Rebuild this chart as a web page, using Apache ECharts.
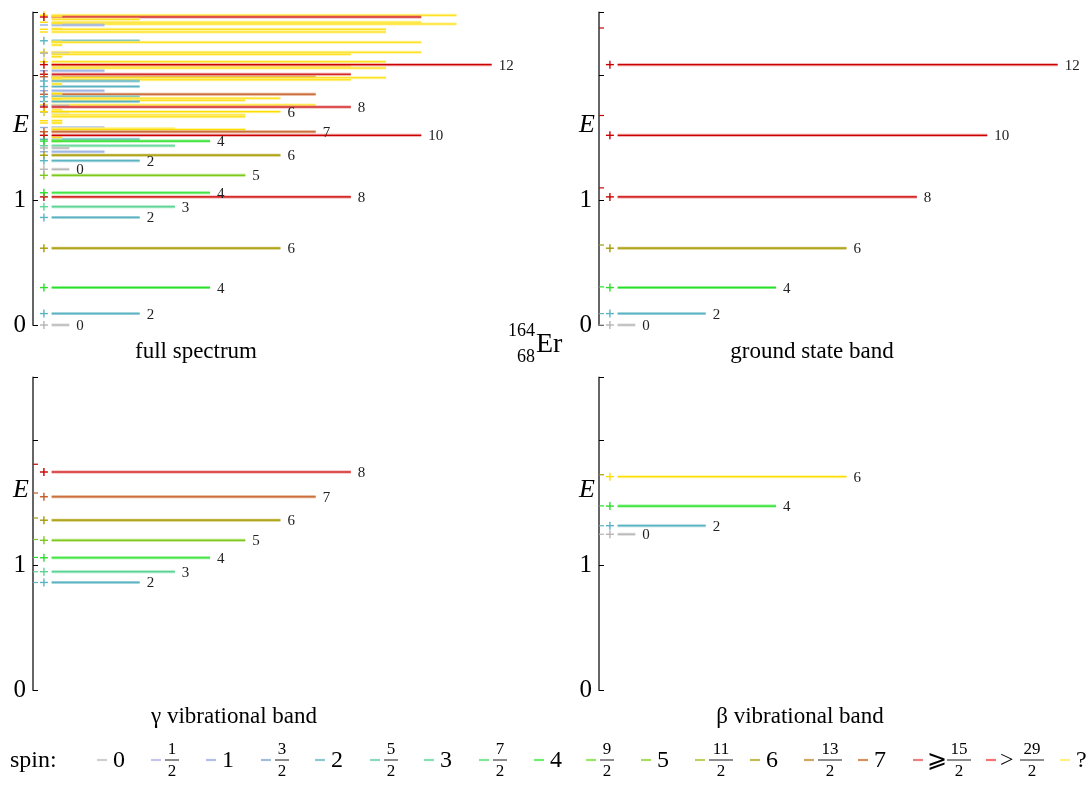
<!DOCTYPE html>
<html><head><meta charset="utf-8">
<script src="https://cdn.jsdelivr.net/npm/echarts@6/dist/echarts.min.js"></script>
<style>html,body{margin:0;padding:0;background:#fff}#c{width:1092px;height:785px}</style>
</head><body><div id="c"></div>
<script>
// ---------- spin categories (legend) ----------
const spinKeys  = ['0','1/2','1','3/2','2','5/2','3','7/2','4','9/2','5','11/2','6','13/2','7','≥15/2','>29/2','?'];
const spinHalo  = ['#cfcfcf','#c4c4f0','#b0c0ea','#a0bedc','#8cc8d0','#8cd8c0','#86e0b0','#80e89a','#70ee70','#98e868','#a8dc60','#c0d060','#c4bc50','#d0a860','#d89060','#e88080','#ff7070','#fff080'];
const spinCore  = ['#b4b4b4','#a8a8e4','#94aee2','#84aad2','#5ab4c4','#5ccaa8','#5cd494','#4cdc7c','#2adf2a','#6cd82c','#7cc81c','#98b01c','#a49a00','#bc8c28','#c45a24','#cc0000','#ff2020','#ffdc00'];

// ---------- ground state band ----------
const gsbJ      = [0, 2, 4, 6, 8, 10, 12];
const gsbE      = [0, 0.0914, 0.2994, 0.6144, 1.0249, 1.5175, 2.083];
const gsbRotorE = [0, 0.0914, 0.305, 0.640, 1.097, 1.676, 2.376];
// ---------- gamma vibrational band ----------
const gamJ      = [2, 3, 4, 5, 6, 7, 8];
const gamE      = [0.8603, 0.9464, 1.0579, 1.1976, 1.3583, 1.546, 1.744];
const gamRotorE = [0.860, 0.946, 1.061, 1.204, 1.376, 1.576, 1.806];
// ---------- beta vibrational band ----------
const betJ      = [0, 2, 4, 6];
const betE      = [1.2459, 1.3145, 1.4714, 1.707];
const betSpin   = ['0', '2', '4', '?'];
const betRotorE = [1.246, 1.314, 1.473, 1.722];
// ---------- other levels (full spectrum only) ----------
const othE   = [2.478,2.464,2.446,2.422,2.408,2.400,2.366,2.344,2.274,2.262,2.182,2.174,2.166,2.106,2.074,2.056,2.034,2.006,1.986,1.978,1.962,1.952,1.908,1.874,1.846,1.826,1.814,1.798,1.788,1.760,1.755,1.702,1.680,1.666,1.580,1.572,1.564,1.486,1.434,1.416,1.386,
                2.472,2.416,2.368,2.264,2.240,2.146,2.080,1.976,1.928,1.852,1.810,1.720,1.634,1.616,1.502,1.472];
const othJ   = [11,10,2,10,11,1,9,9,2,10,10,0,8,9,8,9,1,8,7,9,8,2,2,1,7,2,6,5,2,7,0,0,5,5,1,3,5,2,3,0,1,
                -0.2,-0.2,-0.2,-0.2,-0.2,-0.2,-0.2,-0.2,-0.2,-0.2,-0.2,-0.2,-0.2,-0.2,-0.2,-0.2];
const othSpin= ['?','≥15/2','?','?','?','1','?','?','2','?','?','0','?','?','?','?','1','≥15/2','7','?','?','2','2','1','7','2','?','?','2','?','0','0','?','?','1','?','?','2','3','0','1',
                '?','?','?','?','?','?','?','?','?','?','?','?','?','?','?','?'];
const othPar = ['+','+','','-','','-','-','-','+','','+','+','','+','','','-','+','+','','','+','+','-','+','+','','','+','+','+','+','','','-','','','+','+','+','-',
                '','','','','','','','','','','','','-','-','',''];

// ---------- text ----------
const panelTitles = ['full spectrum', 'ground state band', 'γ vibrational band', 'β vibrational band'];
const yTickLabels = ['0', '1', ''];

const spinOfJ = J => (J >= 8 ? '≥15/2' : String(J));
const si = k => spinKeys.indexOf(k);
const parCode = p => (p === '+' ? 1 : p === '-' ? -1 : 0);

const gsbData = gsbJ.map((J, i) => [gsbE[i], J, si(spinOfJ(J)), 1, J]);
const gamData = gamJ.map((J, i) => [gamE[i], J, si(spinOfJ(J)), 1, J]);
const betData = betJ.map((J, i) => [betE[i], J, si(betSpin[i]), 1, J]);
const othData = othE.map((E, i) => [E, othJ[i], si(othSpin[i]), parCode(othPar[i]), -1]);
const fullData = othData.concat(gsbData, gamData, betData);

const gsbRot = gsbJ.map((J, i) => [gsbRotorE[i], si(spinOfJ(J))]);
const gamRot = gamJ.map((J, i) => [gamRotorE[i], si(spinOfJ(J))]);
const betRot = betJ.map((J, i) => [betRotorE[i], si(spinOfJ(J))]);

const SERIF = '"Liberation Serif","DejaVu Serif",serif';
const XMIN = -0.53, XMAX = 13.47;

function levelRender(params, api) {
  const E = api.value(0), J = api.value(1), s = api.value(2), par = api.value(3), lab = api.value(4);
  const a = api.coord([0, E]);
  const b = api.coord([J + 0.5, E]);
  const m = api.coord([-0.22, E]);
  const ch = [
    {type: 'line', shape: {x1: a[0], y1: a[1], x2: b[0], y2: b[1]}, style: {stroke: spinHalo[s], lineWidth: 3, opacity: 0.75}},
    {type: 'line', shape: {x1: a[0], y1: a[1], x2: b[0], y2: b[1]}, style: {stroke: spinCore[s], lineWidth: 1.2}}
  ];
  if (par !== 0) {
    ch.push({type: 'line', shape: {x1: m[0] - 4, y1: m[1], x2: m[0] + 4, y2: m[1]}, style: {stroke: spinCore[s], lineWidth: 1.4}});
    if (par === 1) ch.push({type: 'line', shape: {x1: m[0], y1: m[1] - 4, x2: m[0], y2: m[1] + 4}, style: {stroke: spinCore[s], lineWidth: 1.4}});
  }
  if (lab >= 0) {
    ch.push({type: 'text', x: b[0] + 7, y: b[1] + 1, style: {text: String(lab), fontFamily: SERIF, fontSize: 15, fill: '#222', verticalAlign: 'middle', align: 'left'}});
  }
  return {type: 'group', children: ch};
}
function rotorRender(params, api) {
  const E = api.value(0), s = api.value(1);
  const p = api.coord([XMIN, E]);
  return {type: 'line', shape: {x1: p[0], y1: p[1], x2: p[0] + 5, y2: p[1]}, style: {stroke: spinCore[s], lineWidth: 1.2}};
}

const grids = [
  {left: 33, top: 12.5, width: 492.8, height: 312.5},
  {left: 599, top: 12.5, width: 492.8, height: 312.5},
  {left: 33, top: 377.5, width: 492.8, height: 312.5},
  {left: 599, top: 377.5, width: 492.8, height: 312.5}
];
const xAxes = grids.map((g, i) => ({gridIndex: i, type: 'value', min: XMIN, max: XMAX, show: false}));
const yAxes = grids.map((g, i) => ({
  gridIndex: i, type: 'value', min: 0, max: 2.5, interval: 1,
  axisLine: {show: true, onZero: false, lineStyle: {color: '#555', width: 1.8}},
  axisTick: {show: true, inside: true, length: 5, lineStyle: {color: '#000', width: 1}},
  axisLabel: {formatter: v => yTickLabels[Math.round(v)] || '', fontFamily: SERIF, fontSize: 25, color: '#000', margin: 7},
  splitLine: {show: false}
}));

const series = [
  {type: 'custom', xAxisIndex: 0, yAxisIndex: 0, renderItem: levelRender, data: fullData, silent: true},
  {type: 'custom', xAxisIndex: 1, yAxisIndex: 1, renderItem: levelRender, data: gsbData, silent: true},
  {type: 'custom', xAxisIndex: 2, yAxisIndex: 2, renderItem: levelRender, data: gamData, silent: true},
  {type: 'custom', xAxisIndex: 3, yAxisIndex: 3, renderItem: levelRender, data: betData, silent: true},
  {type: 'custom', xAxisIndex: 1, yAxisIndex: 1, renderItem: rotorRender, data: gsbRot, silent: true},
  {type: 'custom', xAxisIndex: 2, yAxisIndex: 2, renderItem: rotorRender, data: gamRot, silent: true},
  {type: 'custom', xAxisIndex: 3, yAxisIndex: 3, renderItem: rotorRender, data: betRot, silent: true}
];

// ---------- graphic texts ----------
const graphic = [];
const titlePos = [[196, 352], [812, 352], [234, 717], [800, 717]];
panelTitles.forEach((t, i) => graphic.push({type: 'text', x: titlePos[i][0], y: titlePos[i][1],
  style: {text: t, fontFamily: SERIF, fontSize: 23, fill: '#000', align: 'center', verticalAlign: 'middle'}}));
grids.forEach(g => {
  const yE = g.top + g.height * (1 - 1.6 / 2.5);
  graphic.push({type: 'text', x: g.left - 4, y: yE, style: {text: 'E', fontFamily: SERIF, fontStyle: 'italic', fontSize: 26, fill: '#000', align: 'right', verticalAlign: 'middle'}});
});
graphic.push({type: 'text', x: 535, y: 331, style: {text: '164', fontFamily: SERIF, fontSize: 18, fill: '#000', align: 'right', verticalAlign: 'middle'}});
graphic.push({type: 'text', x: 535, y: 357, style: {text: '68', fontFamily: SERIF, fontSize: 18, fill: '#000', align: 'right', verticalAlign: 'middle'}});
graphic.push({type: 'text', x: 536, y: 345, style: {text: 'Er', fontFamily: SERIF, fontSize: 28, fill: '#000', align: 'left', verticalAlign: 'middle'}});

// legend
graphic.push({type: 'text', x: 10, y: 761, style: {text: 'spin:', fontFamily: SERIF, fontSize: 24, fill: '#000', align: 'left', verticalAlign: 'middle'}});
const legendLineX = [97,151,206,261,315,370,424,479,534,586,641,695,750,804,858,913,986,1060];
spinKeys.forEach((k, i) => {
  const x = legendLineX[i];
  graphic.push({type: 'line', shape: {x1: x, y1: 760, x2: x + 10, y2: 760}, style: {stroke: spinHalo[i], lineWidth: 2.2}});
  let tx = x + 14;
  let label = k, prefix = '';
  if (k.startsWith('≥') || k.startsWith('>')) { prefix = k[0]; label = k.slice(1); }
  if (prefix) {
    graphic.push({type: 'text', x: tx, y: 761, style: {text: prefix === '≥' ? '⩾' : '>', fontFamily: SERIF, fontSize: 24, fill: '#000', align: 'left', verticalAlign: 'middle'}});
    tx += 20;
  }
  if (label.indexOf('/') >= 0) {
    const [n, d] = label.split('/');
    const w = n.length > 1 ? 22 : 12;
    graphic.push({type: 'text', x: tx + w / 2 + 1, y: 750, style: {text: n, fontFamily: SERIF, fontSize: 17, fill: '#000', align: 'center', verticalAlign: 'middle'}});
    graphic.push({type: 'line', shape: {x1: tx, y1: 760, x2: tx + w + 2, y2: 760}, style: {stroke: '#000', lineWidth: 0.9}});
    graphic.push({type: 'text', x: tx + w / 2 + 1, y: 772, style: {text: d, fontFamily: SERIF, fontSize: 17, fill: '#000', align: 'center', verticalAlign: 'middle'}});
  } else {
    graphic.push({type: 'text', x: tx + 2, y: 761, style: {text: label, fontFamily: SERIF, fontSize: 24, fill: '#000', align: 'left', verticalAlign: 'middle'}});
  }
});

const chart = echarts.init(document.getElementById('c'), null, {renderer: 'canvas'});
chart.setOption({
  animation: false,
  backgroundColor: '#fff',
  grid: grids, xAxis: xAxes, yAxis: yAxes, series: series, graphic: graphic
});
</script></body></html>
